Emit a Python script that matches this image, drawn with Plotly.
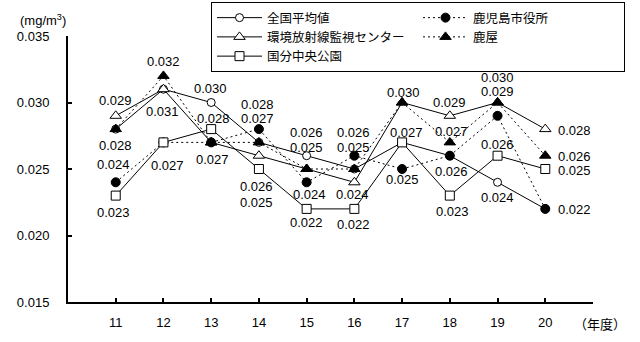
import plotly.graph_objects as go

# ---- data ----
years = [11, 12, 13, 14, 15, 16, 17, 18, 19, 20]
x_tick_labels = ["11", "12", "13", "14", "15", "16", "17", "18", "19", "20"]
y_tick_values = [0.015, 0.020, 0.025, 0.030, 0.035]

zenkoku = [0.028, 0.031, 0.030, 0.027, 0.026, 0.025, 0.027, 0.026, 0.024, 0.022]      # 全国平均値
kankyo = [0.029, 0.031, 0.027, 0.026, 0.025, 0.024, 0.030, 0.029, 0.030, 0.028]       # 環境放射線監視センター
kokubu = [0.023, 0.027, 0.028, 0.025, 0.022, 0.022, 0.027, 0.023, 0.026, 0.025]       # 国分中央公園
kagoshima = [0.024, 0.027, 0.027, 0.028, 0.024, 0.026, 0.025, 0.026, 0.029, 0.022]    # 鹿児島市役所
kanoya = [0.028, 0.032, 0.027, 0.027, 0.025, 0.025, 0.030, 0.027, 0.030, 0.026]       # 鹿屋

series = {
    "zenkoku": ("全国平均値", zenkoku),
    "kankyo": ("環境放射線監視センター", kankyo),
    "kokubu": ("国分中央公園", kokubu),
    "kagoshima": ("鹿児島市役所", kagoshima),
    "kanoya": ("鹿屋", kanoya),
}

# which series' point gets a value label, and where it is drawn (px offsets)
label_specs = [
    ("kankyo", 11, 0, -15), ("zenkoku", 11, 0, 16), ("kagoshima", 11, -2, -18), ("kokubu", 11, -2, 17),
    ("kanoya", 12, 0, -14), ("zenkoku", 12, -1, 22), ("kokubu", 12, 4, 23),
    ("zenkoku", 13, -1, -14), ("kokubu", 13, 2, -11), ("kankyo", 13, 1, 17),
    ("kagoshima", 14, -1, -25), ("kanoya", 14, -1, -24), ("kankyo", 14, -2, 31), ("kokubu", 14, -2, 33),
    ("zenkoku", 15, 0, -23), ("kanoya", 15, 0, -22), ("kagoshima", 15, 3, 12), ("kokubu", 15, 0, 14),
    ("kagoshima", 16, -1, -23), ("kanoya", 16, -1, -22), ("kankyo", 16, -2, 12), ("kokubu", 16, -1, 16),
    ("kanoya", 17, 1, -10), ("kokubu", 17, 4, -10), ("kagoshima", 17, 0, 10),
    ("kankyo", 18, 0, -13), ("kanoya", 18, 2, -11), ("kagoshima", 18, 2, 16), ("kokubu", 18, 3, 16),
    ("kanoya", 19, 0, -25), ("kagoshima", 19, 0, -24), ("kokubu", 19, 0, -11), ("zenkoku", 19, 0, 15),
]
right_label_specs = [("kankyo", 20), ("kanoya", 20), ("kokubu", 20), ("kagoshima", 20)]

# ---- styles ----
FONT = "Liberation Sans, Arial, Noto Sans CJK JP, sans-serif"
styles = {
    "zenkoku": dict(symbol="circle", size=8, fill="white", dash="solid", rank=1),
    "kagoshima": dict(symbol="circle", size=9, fill="black", dash="2px,3px", rank=2),
    "kankyo": dict(symbol="triangle-up", size=10, fill="white", dash="solid", rank=3),
    "kanoya": dict(symbol="triangle-up", size=10, fill="black", dash="2px,3px", rank=4),
    "kokubu": dict(symbol="square", size=9, fill="white", dash="solid", rank=5),
}
draw_order = ["zenkoku", "kankyo", "kagoshima", "kokubu", "kanoya"]

fig = go.Figure()
for key in draw_order:
    name, vals = series[key]
    st = styles[key]
    fig.add_trace(go.Scatter(
        x=years, y=vals, name=name, mode="lines+markers",
        line=dict(color="black", width=1, dash=st["dash"]),
        marker=dict(symbol=st["symbol"], size=st["size"], color=st["fill"],
                    line=dict(color="black", width=1)),
        legendrank=st["rank"], cliponaxis=False,
    ))

annotations = []
for key, yr, dx, dy in label_specs:
    v = series[key][1][years.index(yr)]
    annotations.append(dict(x=yr, y=v, xref="x", yref="y", text=f"{v:.3f}",
                            showarrow=False, xshift=dx, yshift=-dy,
                            xanchor="center", yanchor="middle",
                            font=dict(size=13, color="black", family=FONT)))
for key, yr in right_label_specs:
    v = series[key][1][years.index(yr)]
    annotations.append(dict(x=yr, y=v, xref="x", yref="y", text=f"{v:.3f}",
                            showarrow=False, xshift=11, yshift=-1,
                            xanchor="left", yanchor="middle",
                            font=dict(size=13, color="black", family=FONT)))

L, R, T, B = 68, 47, 36, 40
W, H = 640, 342
pw, ph = W - L - R, H - T - B


def px_to_paper(px, py):
    return (px - L) / pw, (H - B - py) / ph


for text, px, py in [("(mg/m<sup>3</sup>)", 43, 20), ("（年度）", 600, 324)]:
    ax, ay = px_to_paper(px, py)
    annotations.append(dict(x=ax, y=ay, xref="paper", yref="paper", text=text,
                            showarrow=False, xanchor="center", yanchor="middle",
                            font=dict(size=13, color="black", family=FONT)))

lx, ly = px_to_paper(211, 2)
fig.update_layout(
    width=W, height=H,
    margin=dict(l=L, r=R, t=T, b=B, autoexpand=False),
    paper_bgcolor="white", plot_bgcolor="white",
    font=dict(family=FONT, size=13, color="black"),
    annotations=annotations,
    legend=dict(
        orientation="h", x=lx, xanchor="left", y=ly, yanchor="top",
        bordercolor="black", borderwidth=1, bgcolor="white",
        entrywidth=146, entrywidthmode="pixels", itemwidth=45,
        font=dict(size=12.5, family="Noto Sans CJK JP, sans-serif", color="black"),
        tracegroupgap=0,
    ),
    xaxis=dict(
        range=[10, 21], tickmode="array",
        tickvals=years, ticktext=x_tick_labels,
        ticks="inside", ticklen=4, tickwidth=2, tickcolor="black",
        minor=dict(tickmode="array", tickvals=[21], ticks="inside", ticklen=4,
                   tickwidth=2, tickcolor="black", showgrid=False),
        showline=True, linecolor="black", linewidth=2,
        showgrid=False, zeroline=False, ticklabelstandoff=7,
        tickfont=dict(size=13, family=FONT),
    ),
    yaxis=dict(
        range=[0.015, 0.035], tickmode="array",
        tickvals=y_tick_values, ticktext=[f"{v:.3f}" for v in y_tick_values],
        ticks="inside", ticklen=4, tickwidth=2, tickcolor="black",
        showline=True, linecolor="black", linewidth=2,
        showgrid=False, zeroline=False, ticklabelstandoff=14,
        tickfont=dict(size=13, family=FONT),
    ),
    showlegend=True,
)

fig.write_html("out.html")
